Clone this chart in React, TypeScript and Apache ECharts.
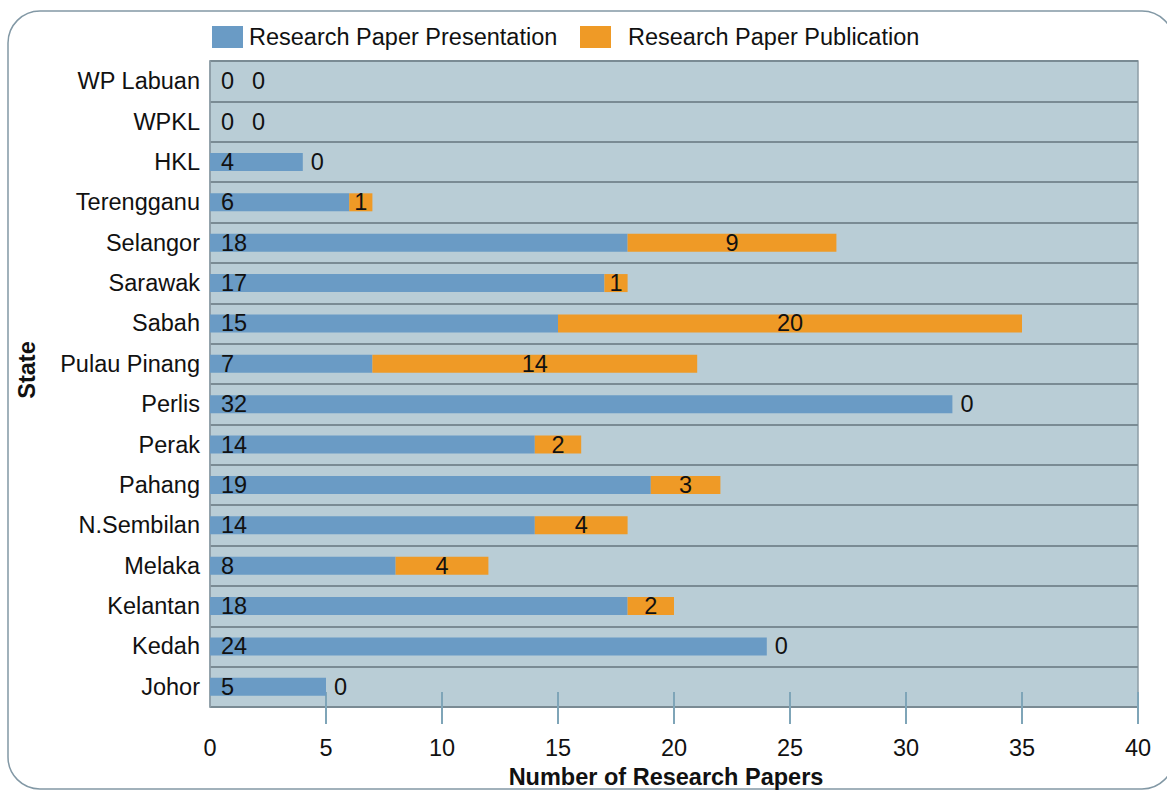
import React, { useEffect, useRef } from 'react';
import * as echarts from 'echarts';

const states = [
  'Johor', 'Kedah', 'Kelantan', 'Melaka', 'N.Sembilan', 'Pahang', 'Perak', 'Perlis',
  'Pulau Pinang', 'Sabah', 'Sarawak', 'Selangor', 'Terengganu', 'HKL', 'WPKL', 'WP Labuan',
];
const presentation = [5, 24, 18, 8, 14, 19, 14, 32, 7, 15, 17, 18, 6, 4, 0, 0];
const publication = [0, 0, 2, 4, 4, 3, 2, 0, 14, 20, 1, 9, 1, 0, 0, 0];
const xTicks = [5, 10, 15, 20, 25, 30, 35, 40];
const seriesNames = ['Research Paper Presentation', 'Research Paper Publication'];

export default function App() {
  const ref = useRef<HTMLDivElement>(null);
  useEffect(() => {
    const chart = echarts.init(ref.current!, null, { renderer: 'svg' });
    const font = 'Liberation Sans, Arial, Helvetica, sans-serif';
    const fs = 23.5;
    const txt = '#111111';
    const tickStyle = { color: '#7fa5b8', width: 2 };
    const pubData = publication.map((v, i) => ({
      value: v,
      label:
        v === 0
          ? { position: 'right', distance: presentation[i] === 0 ? 42 : 8 }
          : { position: 'inside' },
    }));
    chart.setOption({
      animation: false,
      textStyle: { fontFamily: font },
      graphic: [
        {
          type: 'rect',
          silent: true,
          z: -1,
          shape: { x: 8, y: 11, width: 1166, height: 778, r: 32 },
          style: { fill: 'none', stroke: '#8298a5', lineWidth: 1.5 },
        },
      ],
      legend: [
        {
          data: [seriesNames[0]],
          left: 212,
          top: 25,
          padding: 0,
          itemWidth: 31,
          itemHeight: 22,
          icon: 'rect',
          selectedMode: false,
          textStyle: { fontSize: fs, color: txt, fontFamily: font, padding: [0, 0, 0, 1] },
        },
        {
          data: [seriesNames[1]],
          left: 580,
          top: 25,
          padding: 0,
          itemWidth: 31,
          itemHeight: 22,
          icon: 'rect',
          selectedMode: false,
          textStyle: { fontSize: fs, color: txt, fontFamily: font, padding: [0, 0, 0, 12] },
        },
      ],
      grid: {
        left: 210,
        top: 61,
        width: 928,
        height: 646,
        show: true,
        outerBoundsMode: 'none',
        containLabel: false,
        backgroundColor: '#b9cdd6',
        borderColor: '#8d9da6',
        borderWidth: 1.5,
      },
      xAxis: [
        {
          type: 'value',
          min: 0,
          max: 40,
          interval: 5,
          position: 'bottom',
          name: 'Number of Research Papers',
          nameLocation: 'middle',
          nameGap: 57,
          nameTextStyle: { fontSize: fs, fontWeight: 'bold', color: txt, fontFamily: font, padding: [0, 16, 0, 0] },
          axisLine: { show: false },
          splitLine: { show: false },
          axisTick: { show: true, length: 17, lineStyle: tickStyle, customValues: xTicks },
          axisLabel: { fontSize: fs, color: txt, fontFamily: font, margin: 29 },
        },
        {
          type: 'value',
          min: 0,
          max: 40,
          interval: 5,
          position: 'bottom',
          axisLine: { show: false },
          splitLine: { show: false },
          axisLabel: { show: false },
          axisTick: { show: true, inside: true, length: 15, lineStyle: tickStyle, customValues: xTicks },
        },
      ],
      yAxis: {
        type: 'category',
        data: states,
        name: 'State',
        nameLocation: 'middle',
        nameGap: 171,
        nameTextStyle: { fontSize: fs, fontWeight: 'bold', color: txt, fontFamily: font, padding: [0, 0, 0, 28] },
        axisLine: { show: true, lineStyle: { color: '#8d9da6', width: 1.5 } },
        axisTick: { show: false },
        axisLabel: { fontSize: fs, color: txt, fontFamily: font, margin: 10, interval: 0 },
        splitLine: { show: true, interval: 0, lineStyle: { color: '#7a8b94', width: 2 } },
      },
      series: [
        {
          name: seriesNames[0],
          type: 'bar',
          stack: 'total',
          barWidth: 18,
          xAxisIndex: 0,
          data: presentation,
          itemStyle: { color: '#6a9bc5' },
          label: { show: true, position: 'insideLeft', distance: 11, fontSize: fs, color: txt, fontFamily: font },
        },
        {
          name: seriesNames[1],
          type: 'bar',
          stack: 'total',
          barWidth: 18,
          xAxisIndex: 0,
          data: pubData,
          itemStyle: { color: '#ef9a26' },
          label: { show: true, fontSize: fs, color: txt, fontFamily: font },
        },
      ],
    });
    return () => chart.dispose();
  }, []);
  return (
    <div
      ref={ref}
      style={{ position: 'fixed', left: 0, top: 0, width: 1167, height: 791, background: '#ffffff' }}
    />
  );
}
